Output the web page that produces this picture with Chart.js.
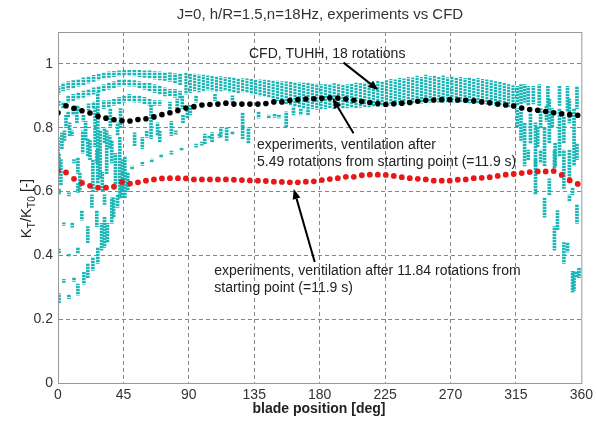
<!DOCTYPE html>
<html>
<head>
<meta charset="utf-8">
<script src="https://cdn.jsdelivr.net/npm/chart.js@4.4.1/dist/chart.umd.min.js"></script>
<style>
    html, body { margin: 0; padding: 0; background: #fff; }
</style>
</head>
<body>
<canvas id="ktChart" width="597" height="423"></canvas>
<script>
// axis ticks
const xTicks = [0, 45, 90, 135, 180, 225, 270, 315, 360];
const yTicks = [0, 0.2, 0.4, 0.6, 0.8, 1];

// blade positions of the dotted series [deg]
const bladePos = [
    0, 5.5, 11, 16.5, 22, 27.5, 33, 38.5, 44, 49.5,
    55, 60.5, 66, 71.5, 77, 82.5, 88, 93.5, 99, 104.5,
    110, 115.5, 121, 126.5, 132, 137.5, 143, 148.5, 154, 159.5,
    165, 170.5, 176, 181.5, 187, 192.5, 198, 203.5, 209, 214.5,
    220, 225.5, 231, 236.5, 242, 247.5, 253, 258.5, 264, 269.5,
    275, 280.5, 286, 291.5, 297, 302.5, 308, 313.5, 319, 324.5,
    330, 335.5, 341, 346.5, 352, 357.5
];

// CFD, TUHH, 18 rotations
const cfdKt = [
    0.847, 0.869, 0.861, 0.853, 0.846, 0.836, 0.830, 0.825, 0.822, 0.821,
    0.826, 0.828, 0.834, 0.841, 0.847, 0.854, 0.862, 0.866, 0.871, 0.873,
    0.874, 0.877, 0.874, 0.874, 0.874, 0.874, 0.876, 0.881, 0.881, 0.885,
    0.888, 0.890, 0.891, 0.892, 0.894, 0.893, 0.890, 0.886, 0.882, 0.879,
    0.876, 0.873, 0.875, 0.877, 0.879, 0.883, 0.886, 0.887, 0.888, 0.888,
    0.887, 0.886, 0.884, 0.881, 0.878, 0.874, 0.871, 0.868, 0.862, 0.857,
    0.855, 0.851, 0.847, 0.844, 0.841, 0.839
];

// experiments, ventilation after 11.84 rotations
const late = [
    0.664, 0.660, 0.640, 0.627, 0.618, 0.612, 0.612, 0.615, 0.630, 0.625,
    0.629, 0.634, 0.638, 0.641, 0.642, 0.642, 0.641, 0.638, 0.638, 0.638,
    0.638, 0.638, 0.637, 0.636, 0.635, 0.634, 0.633, 0.631, 0.630, 0.629,
    0.629, 0.631, 0.632, 0.636, 0.639, 0.642, 0.646, 0.646, 0.651, 0.653,
    0.653, 0.652, 0.649, 0.645, 0.642, 0.640, 0.638, 0.634, 0.634, 0.634,
    0.637, 0.638, 0.642, 0.643, 0.645, 0.649, 0.653, 0.655, 0.658, 0.661,
    0.663, 0.663, 0.664, 0.652, 0.635, 0.624
];

// experiments, ventilation after 5.49 rotations: vertical streaks [deg, low, high]
const streaksFan = [
    [0.7, 0.25, 0.28], [0.7, 0.405, 0.42], [0.7, 0.59, 0.61], [0.7, 0.675, 0.72],
    [4, 0.315, 0.325], [4, 0.494, 0.502],
    [7.5, 0.264, 0.276], [7.5, 0.396, 0.404], [7.5, 0.586, 0.596],
    [9.8, 0.488, 0.502], [11, 0.318, 0.33], [11, 0.69, 0.70],
    [13.7, 0.275, 0.31], [13.7, 0.405, 0.425], [13.7, 0.597, 0.625],
    [16.4, 0.51, 0.54], [17.8, 0.31, 0.347],
    [20.5, 0.33, 0.375], [20.5, 0.44, 0.49], [23.3, 0.55, 0.59],
    [24, 0.353, 0.394], [26.7, 0.49, 0.54], [27.4, 0.375, 0.425],
    [30, 0.416, 0.50], [32, 0.425, 0.52], [32, 0.56, 0.59],
    [34, 0.44, 0.50], [37, 0.50, 0.58], [38.3, 0.52, 0.58],
    [41, 0.55, 0.59], [43.6, 0.58, 0.625]
];

const streaksMiddle = [
    [0, 0.706, 0.77], [2.7, 0.734, 0.784], [4.5, 0.76, 0.79], [8, 0.775, 0.815],
    [9.6, 0.775, 0.79], [13, 0.815, 0.87], [13.7, 0.656, 0.706], [17, 0.72, 0.79],
    [20.5, 0.71, 0.766], [22, 0.70, 0.76], [26.7, 0.69, 0.73], [27.4, 0.625, 0.91],
    [29, 0.64, 0.79], [32, 0.753, 0.80], [33.5, 0.656, 0.79], [35.6, 0.734, 0.775],
    [37, 0.69, 0.76], [41, 0.775, 0.815], [42.5, 0.58, 0.77], [44.5, 0.60, 0.70],
    [46, 0.58, 0.71], [48, 0.60, 0.66], [52.7, 0.744, 0.784], [58, 0.734, 0.77],
    [61, 0.77, 0.79], [64, 0.766, 0.87], [68.5, 0.775, 0.815], [70, 0.755, 0.79],
    [78, 0.775, 0.82], [81, 0.78, 0.79], [82, 0.846, 0.89], [85.5, 0.86, 0.90],
    [44.5, 0.651, 0.661], [51, 0.670, 0.680], [58, 0.682, 0.692], [64.5, 0.692, 0.702],
    [71, 0.707, 0.717], [78, 0.717, 0.727], [85, 0.728, 0.736], [95, 0.739, 0.749],
    [99, 0.745, 0.755], [104, 0.765, 0.775], [111, 0.77, 0.78], [120, 0.779, 0.789],
    [86, 0.815, 0.84], [89, 0.83, 0.86], [91, 0.84, 0.87], [101, 0.75, 0.78],
    [106, 0.755, 0.785], [112, 0.77, 0.80], [116, 0.76, 0.80], [127, 0.766, 0.847],
    [131, 0.75, 0.80], [138, 0.83, 0.85], [145, 0.83, 0.84], [149, 0.832, 0.842],
    [152, 0.83, 0.84], [157, 0.80, 0.85], [162, 0.84, 0.865], [167, 0.84, 0.86],
    [172, 0.84, 0.858], [95, 0.88, 0.90], [108, 0.885, 0.905], [120, 0.88, 0.90],
    [2, 0.62, 0.70], [5.5, 0.80, 0.84], [15, 0.60, 0.66], [19, 0.76, 0.82],
    [24, 0.60, 0.70], [25.5, 0.74, 0.86], [30.5, 0.60, 0.66], [36, 0.80, 0.86],
    [39.5, 0.62, 0.72], [43, 0.80, 0.86]
];

const streaksUpper = [
    [0.5, 0.905, 0.93], [0.5, 0.87, 0.885],
    [3.5, 0.915, 0.94], [3.5, 0.86, 0.88],
    [7, 0.92, 0.945], [7, 0.88, 0.90], [7, 0.835, 0.85],
    [10.5, 0.925, 0.948], [10.5, 0.885, 0.905], [10.5, 0.84, 0.86],
    [14, 0.93, 0.952], [14, 0.89, 0.91], [14, 0.85, 0.865],
    [17.5, 0.935, 0.956], [17.5, 0.895, 0.915], [17.5, 0.82, 0.84],
    [21, 0.94, 0.96], [21, 0.90, 0.92], [21, 0.855, 0.875],
    [24.5, 0.945, 0.964], [24.5, 0.905, 0.925], [24.5, 0.86, 0.88],
    [28, 0.95, 0.968], [28, 0.91, 0.93],
    [31.5, 0.955, 0.972], [31.5, 0.915, 0.935], [31.5, 0.86, 0.885],
    [35, 0.958, 0.975], [35, 0.92, 0.94], [35, 0.865, 0.885],
    [38.5, 0.96, 0.977], [38.5, 0.925, 0.945], [38.5, 0.87, 0.89],
    [42, 0.962, 0.978], [42, 0.93, 0.95], [42, 0.875, 0.895],
    [45.5, 0.963, 0.98], [45.5, 0.935, 0.952], [45.5, 0.88, 0.90],
    [49, 0.963, 0.98], [49, 0.93, 0.95], [49, 0.885, 0.905],
    [52.5, 0.962, 0.98], [52.5, 0.93, 0.948], [52.5, 0.88, 0.90],
    [56, 0.96, 0.98], [56, 0.925, 0.945], [56, 0.88, 0.90],
    [59.5, 0.958, 0.978], [59.5, 0.92, 0.94], [59.5, 0.875, 0.895],
    [63, 0.955, 0.978], [63, 0.915, 0.94], [63, 0.87, 0.89],
    [66.5, 0.952, 0.976], [66.5, 0.91, 0.935], [66.5, 0.87, 0.885],
    [70, 0.95, 0.975], [70, 0.905, 0.93], [70, 0.87, 0.885],
    [73.5, 0.948, 0.973], [73.5, 0.90, 0.925],
    [77, 0.945, 0.972], [77, 0.90, 0.92], [77, 0.86, 0.88],
    [80.5, 0.94, 0.97], [80.5, 0.895, 0.92],
    [84, 0.935, 0.969], [84, 0.89, 0.915]
];

const streaksBand = [
    [88, 0.905, 0.972], [91, 0.91, 0.97], [94, 0.915, 0.968], [97, 0.912, 0.966],
    [100, 0.915, 0.965], [103, 0.918, 0.963], [106, 0.915, 0.962], [109, 0.912, 0.96],
    [112, 0.915, 0.96], [115, 0.916, 0.958], [118, 0.912, 0.957], [121, 0.91, 0.957],
    [124, 0.908, 0.955], [127, 0.912, 0.954], [130, 0.91, 0.953], [133, 0.906, 0.952],
    [136, 0.904, 0.95], [139, 0.90, 0.95], [142, 0.898, 0.949], [145, 0.895, 0.948],
    [148, 0.89, 0.947], [151, 0.885, 0.946], [154, 0.88, 0.945], [157, 0.875, 0.944],
    [160, 0.87, 0.943], [163, 0.866, 0.942], [166, 0.863, 0.941], [169, 0.86, 0.94],
    [172, 0.858, 0.94], [175, 0.86, 0.938], [178, 0.857, 0.937], [181, 0.858, 0.935],
    [184, 0.86, 0.935], [187, 0.862, 0.936], [190, 0.86, 0.938], [193, 0.862, 0.935],
    [196, 0.86, 0.933], [199, 0.862, 0.935], [202, 0.863, 0.937], [205, 0.862, 0.94],
    [208, 0.864, 0.938], [211, 0.866, 0.94], [214, 0.865, 0.944], [217, 0.866, 0.942],
    [220, 0.867, 0.946], [223, 0.868, 0.944], [226, 0.87, 0.948], [229, 0.871, 0.952],
    [232, 0.872, 0.95], [235, 0.873, 0.955], [238, 0.874, 0.953], [241, 0.875, 0.958],
    [244, 0.876, 0.956], [247, 0.877, 0.962], [250, 0.877, 0.958], [253, 0.878, 0.965],
    [256, 0.879, 0.96], [259, 0.88, 0.962], [262, 0.88, 0.958], [265, 0.88, 0.963],
    [268, 0.88, 0.957], [271, 0.88, 0.96], [274, 0.879, 0.955], [277, 0.879, 0.958],
    [280, 0.878, 0.955], [283, 0.878, 0.957], [286, 0.877, 0.953], [289, 0.876, 0.955],
    [292, 0.875, 0.952], [295, 0.874, 0.95], [298, 0.872, 0.948], [301, 0.87, 0.945],
    [304, 0.868, 0.943], [307, 0.866, 0.94], [310, 0.864, 0.935], [313, 0.862, 0.932]
];

const streaksRight = [
    [316, 0.87, 0.93], [316, 0.80, 0.86], [318.5, 0.875, 0.935], [318.5, 0.76, 0.85],
    [321, 0.88, 0.935], [321, 0.68, 0.815], [323.5, 0.87, 0.93], [323.5, 0.70, 0.73],
    [325, 0.75, 0.846], [327, 0.875, 0.93], [328.5, 0.68, 0.815], [328.5, 0.59, 0.70],
    [330, 0.74, 0.80], [331, 0.87, 0.935], [332, 0.80, 0.86], [332, 0.69, 0.73],
    [334.7, 0.68, 0.80], [334.7, 0.52, 0.58], [336, 0.82, 0.87], [337, 0.87, 0.93],
    [338, 0.753, 0.89], [338, 0.59, 0.64], [340, 0.80, 0.86], [341.5, 0.416, 0.49],
    [341.5, 0.67, 0.73], [342, 0.68, 0.753], [343.6, 0.48, 0.54], [345, 0.71, 0.86],
    [345, 0.87, 0.93], [348, 0.753, 0.837], [348, 0.61, 0.73], [348, 0.375, 0.44],
    [350.5, 0.41, 0.44], [350.5, 0.85, 0.93], [351.8, 0.815, 0.89], [351.8, 0.63, 0.73],
    [351.8, 0.57, 0.59], [354, 0.59, 0.61], [354, 0.285, 0.35], [355, 0.68, 0.86],
    [355, 0.29, 0.35], [357, 0.86, 0.93], [357, 0.50, 0.56], [357, 0.33, 0.35],
    [357, 0.70, 0.75], [358.4, 0.33, 0.36]
];

const FONT = 'Arial, "Liberation Sans", sans-serif';
const TEXT = '#222';
const CYAN = '#1cb6b6';

const canvas = document.getElementById('ktChart');
const ctx = canvas.getContext('2d');

// dotted fills (three vertical phases) so neighbouring streaks don't line up
function dottedFill(color, phase) {
    const tile = document.createElement('canvas');
    tile.width = 4;
    tile.height = 3;
    const t = tile.getContext('2d');
    t.fillStyle = color;
    for (let r = 0; r < 3; r++) {
        t.globalAlpha = r === phase ? 0.3 : 1;
        t.fillRect(0, r, 4, 1);
    }
    return ctx.createPattern(tile, 'repeat');
}
const cyanFills = [0, 1, 2].map(p => dottedFill(CYAN, p));
const phasedFill = c => cyanFills[c.dataIndex % 3];

const toBars = list => list.map(s => ({ x: s[0], y: [s[1], s[2]] }));

const annotationTexts = [
    { text: 'CFD, TUHH, 18 rotations', deg: 131.4, val: 1.031 },
    { text: 'experiments, ventilation after', deg: 136.9, val: 0.744 },
    { text: '5.49 rotations from starting point (=11.9 s)', deg: 136.9, val: 0.691 },
    { text: 'experiments, ventilation after 11.84 rotations from', deg: 107.5, val: 0.35 },
    { text: 'starting point (=11.9 s)', deg: 107.5, val: 0.297 }
];

const arrows = [
    { from: [196.4, 1.004], to: [220.4, 0.918] },
    { from: [203.3, 0.783], to: [188.9, 0.892] },
    { from: [176.6, 0.379], to: [162.2, 0.608] }
];

const decorations = {
    id: 'decorations',
    afterDatasetsDraw(chart) {
        const { ctx, chartArea: a, scales: { x, y } } = chart;
        ctx.save();

        // plot box
        ctx.strokeStyle = '#999';
        ctx.lineWidth = 1;
        ctx.strokeRect(a.left + 0.5, a.top + 0.5, a.right - a.left, a.bottom - a.top);

        // annotation texts
        ctx.fillStyle = TEXT;
        ctx.font = '14px ' + FONT;
        ctx.textBaseline = 'middle';
        ctx.textAlign = 'left';
        annotationTexts.forEach(n => {
            ctx.fillText(n.text, x.getPixelForValue(n.deg), y.getPixelForValue(n.val));
        });

        // arrows
        ctx.strokeStyle = '#000';
        ctx.fillStyle = '#000';
        ctx.lineWidth = 2;
        arrows.forEach(ar => {
            const x1 = x.getPixelForValue(ar.from[0]), y1 = y.getPixelForValue(ar.from[1]);
            const x2 = x.getPixelForValue(ar.to[0]), y2 = y.getPixelForValue(ar.to[1]);
            const ang = Math.atan2(y2 - y1, x2 - x1);
            const len = 10, half = 4;
            const bx = x2 - len * Math.cos(ang), by = y2 - len * Math.sin(ang);
            ctx.beginPath();
            ctx.moveTo(x1, y1);
            ctx.lineTo(bx, by);
            ctx.stroke();
            ctx.beginPath();
            ctx.moveTo(x2, y2);
            ctx.lineTo(bx + half * Math.sin(ang), by - half * Math.cos(ang));
            ctx.lineTo(bx - half * Math.sin(ang), by + half * Math.cos(ang));
            ctx.closePath();
            ctx.fill();
        });

        // title
        ctx.fillStyle = '#333';
        ctx.font = '15px ' + FONT;
        ctx.textAlign = 'center';
        ctx.fillText('J=0, h/R=1.5,n=18Hz, experiments vs CFD', 320, 15);

        // x axis title
        ctx.fillStyle = TEXT;
        ctx.font = 'bold 14px ' + FONT;
        ctx.fillText('blade position [deg]', 319, 409);

        // y axis title with subscripts
        const parts = [
            ['K', 15, 0], ['T', 10, 5], ['/K', 15, 0], ['T0', 10, 5], [' [-]', 15, 0]
        ];
        let total = 0;
        parts.forEach(p => {
            ctx.font = p[1] + 'px ' + FONT;
            total += ctx.measureText(p[0]).width;
        });
        ctx.translate(27, (a.top + a.bottom) / 2 + 1);
        ctx.rotate(-Math.PI / 2);
        ctx.textAlign = 'left';
        let pos = -total / 2;
        parts.forEach(p => {
            ctx.font = p[1] + 'px ' + FONT;
            ctx.fillText(p[0], pos, p[2]);
            pos += ctx.measureText(p[0]).width;
        });

        ctx.restore();
    }
};

const edgeClear = (edges) => (c) => edges.includes(c.tick && c.tick.value) ? 'rgba(0,0,0,0)' : '#858585';

new Chart(canvas, {
    type: 'scatter',
    data: {
        datasets: [
            {
                label: 'CFD, TUHH, 18 rotations',
                data: bladePos.map((d, i) => ({ x: d, y: cfdKt[i] })),
                backgroundColor: '#000',
                borderColor: '#000',
                pointRadius: 2.8,
                pointBorderWidth: 0,
                order: 0
            },
            {
                label: 'experiments, 11.84 rotations',
                data: bladePos.map((d, i) => ({ x: d, y: late[i] })),
                backgroundColor: '#e81818',
                borderColor: '#e81818',
                pointRadius: 2.9,
                pointBorderWidth: 0,
                order: 1
            },
            {
                type: 'bar',
                label: 'experiments, 5.49 rotations',
                data: toBars([...streaksFan, ...streaksMiddle, ...streaksUpper, ...streaksRight]),
                backgroundColor: phasedFill,
                borderWidth: 0,
                barThickness: 3,
                stack: 'exp',
                order: 2
            },
            {
                type: 'bar',
                label: 'experiments, 5.49 rotations (band)',
                data: toBars(streaksBand),
                backgroundColor: phasedFill,
                borderWidth: 0,
                barThickness: 2.5,
                stack: 'exp',
                order: 3
            }
        ]
    },
    options: {
        responsive: false,
        animation: false,
        devicePixelRatio: 1,
        layout: {
            padding: { left: 0, top: 32, right: 13, bottom: 0 }
        },
        plugins: {
            legend: { display: false },
            tooltip: { enabled: false },
            title: { display: false }
        },
        scales: {
            x: {
                type: 'linear',
                min: 0,
                max: 360,
                offset: false,
                afterBuildTicks: s => { s.ticks = xTicks.map(v => ({ value: v })); },
                afterFit: s => { s.height = 40; },
                grid: {
                    color: edgeClear([0, 360]),
                    lineWidth: 1,
                    drawTicks: false,
                    offset: false
                },
                border: { display: true, color: '#999', width: 1, dash: [4, 3] },
                ticks: {
                    autoSkip: false,
                    maxRotation: 0,
                    padding: 4,
                    color: '#333',
                    font: { family: FONT, size: 14 },
                    callback: v => String(v)
                }
            },
            y: {
                min: 0,
                max: 1.1,
                stacked: false,
                afterBuildTicks: s => { s.ticks = yTicks.map(v => ({ value: v })); },
                afterFit: s => { s.width = 58; },
                grid: {
                    color: edgeClear([0]),
                    lineWidth: 1,
                    drawTicks: false
                },
                border: { display: true, color: '#999', width: 1, dash: [4, 3] },
                ticks: {
                    padding: 5,
                    color: '#333',
                    font: { family: FONT, size: 14 },
                    callback: v => String(v)
                }
            }
        }
    },
    plugins: [decorations]
});
</script>
</body>
</html>
